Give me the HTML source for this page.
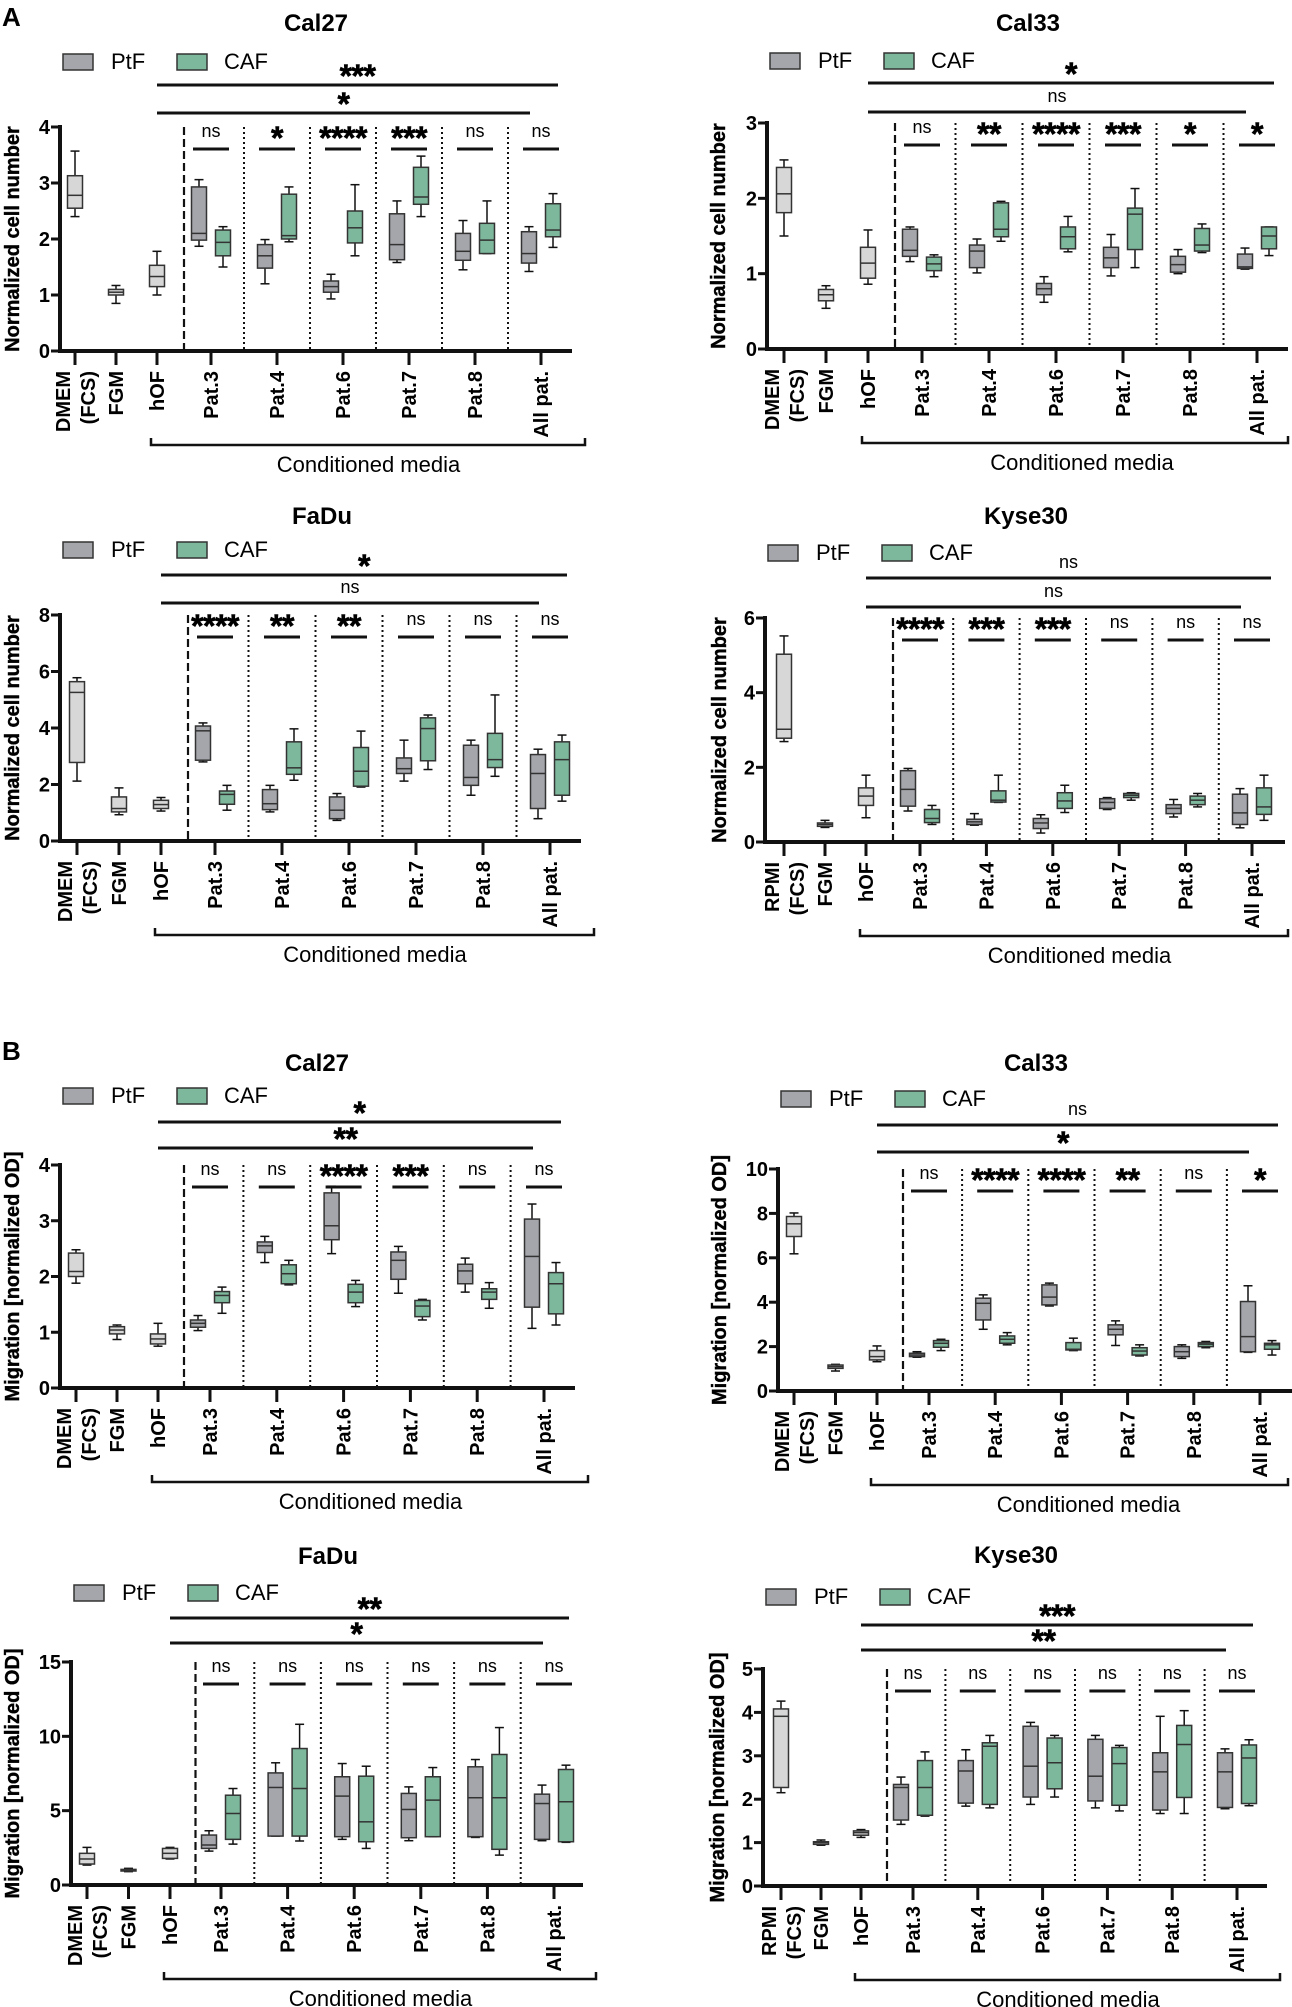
<!DOCTYPE html>
<html><head><meta charset="utf-8">
<style>
html,body{margin:0;padding:0;background:#fff;}
svg{display:block;font-family:"Liberation Sans",Arial,sans-serif;}
</style></head>
<body>
<svg id="fig" width="1292" height="2007" viewBox="0 0 1292 2007" xmlns="http://www.w3.org/2000/svg">
<text x="2" y="26" font-size="26" font-weight="bold">A</text>
<text x="2" y="1060" font-size="26" font-weight="bold">B</text>
</svg>
<script>
// ---- data: each box = [min, q1, median, q3, max]
const catsDMEM = ["DMEM|(FCS)","FGM","hOF","Pat.3","Pat.4","Pat.6","Pat.7","Pat.8","All pat."];
const catsRPMI = ["RPMI|(FCS)","FGM","hOF","Pat.3","Pat.4","Pat.6","Pat.7","Pat.8","All pat."];

const aCal27Singles = [[2.4,2.55,2.78,3.13,3.57],[0.85,1.0,1.05,1.1,1.17],[1.0,1.15,1.33,1.53,1.78]];
const aCal27PtF = [[1.87,1.98,2.1,2.93,3.06],[1.2,1.48,1.7,1.9,1.99],[0.93,1.05,1.15,1.25,1.37],[1.58,1.63,1.9,2.45,2.68],[1.45,1.62,1.78,2.1,2.33],[1.42,1.57,1.74,2.13,2.22]];
const aCal27CAF = [[1.5,1.7,1.94,2.16,2.22],[1.95,2.0,2.06,2.8,2.93],[1.7,1.93,2.2,2.5,2.97],[2.4,2.62,2.75,3.28,3.48],[1.74,1.74,1.98,2.28,2.68],[1.85,2.04,2.16,2.63,2.81]];
const aCal27Sig = ["ns","*","****","***","ns","ns"];
const aCal27Brackets = ["***","*"];

const aCal33Singles = [[1.5,1.81,2.06,2.41,2.51],[0.54,0.64,0.72,0.79,0.84],[0.86,0.94,1.14,1.35,1.58]];
const aCal33PtF = [[1.16,1.23,1.31,1.59,1.62],[1.01,1.08,1.3,1.38,1.46],[0.62,0.72,0.8,0.87,0.96],[0.97,1.08,1.21,1.35,1.52],[1.0,1.02,1.12,1.23,1.32],[1.06,1.07,1.09,1.26,1.34]];
const aCal33CAF = [[0.96,1.04,1.13,1.22,1.25],[1.43,1.49,1.59,1.94,1.96],[1.29,1.33,1.49,1.62,1.76],[1.08,1.32,1.79,1.87,2.13],[1.28,1.3,1.38,1.6,1.66],[1.24,1.33,1.5,1.62,1.62]];
const aCal33Sig = ["ns","**","****","***","*","*"];
const aCal33Brackets = ["*","ns"];

const aFaduSingles = [[2.12,2.78,5.26,5.64,5.78],[0.93,1.03,1.15,1.56,1.88],[1.06,1.15,1.29,1.44,1.54]];
const aFaduPtF = [[2.8,2.86,3.9,4.07,4.18],[1.03,1.11,1.32,1.82,1.97],[0.73,0.79,1.09,1.56,1.68],[2.12,2.39,2.56,2.94,3.57],[1.62,1.97,2.25,3.39,3.57],[0.79,1.15,2.39,3.06,3.25]];
const aFaduCAF = [[1.09,1.3,1.65,1.77,1.97],[2.15,2.36,2.59,3.51,3.97],[1.91,1.94,2.47,3.31,3.89],[2.53,2.84,3.98,4.36,4.46],[2.29,2.6,2.88,3.81,5.17],[1.41,1.62,2.88,3.51,3.75]];
const aFaduSig = ["****","**","**","ns","ns","ns"];
const aFaduBrackets = ["*","ns"];

const aKyseSingles = [[2.69,2.78,3.02,5.03,5.52],[0.39,0.42,0.47,0.51,0.58],[0.65,0.98,1.23,1.45,1.79]];
const aKysePtF = [[0.83,0.96,1.41,1.91,1.97],[0.45,0.47,0.54,0.61,0.76],[0.24,0.36,0.51,0.63,0.73],[0.87,0.9,1.06,1.16,1.19],[0.67,0.76,0.9,1.0,1.14],[0.38,0.47,0.78,1.28,1.43]];
const aKyseCAF = [[0.47,0.52,0.63,0.87,0.98],[1.06,1.07,1.12,1.37,1.79],[0.79,0.9,1.1,1.32,1.52],[1.12,1.19,1.25,1.3,1.32],[0.94,1.0,1.12,1.23,1.3],[0.58,0.74,0.94,1.45,1.79]];
const aKyseSig = ["****","***","***","ns","ns","ns"];
const aKyseBrackets = ["ns","ns"];

const bCal27Singles = [[1.88,2.0,2.09,2.42,2.48],[0.87,0.97,1.04,1.1,1.13],[0.75,0.79,0.88,0.97,1.16]];
const bCal27PtF = [[1.03,1.09,1.16,1.22,1.3],[2.25,2.43,2.55,2.62,2.72],[2.41,2.66,2.91,3.5,3.62],[1.7,1.95,2.29,2.44,2.54],[1.72,1.87,2.1,2.22,2.33],[1.07,1.45,2.36,3.03,3.3]];
const bCal27CAF = [[1.34,1.53,1.66,1.73,1.81],[1.85,1.87,2.05,2.21,2.29],[1.46,1.53,1.72,1.86,1.93],[1.22,1.28,1.47,1.57,1.59],[1.43,1.59,1.72,1.78,1.89],[1.13,1.33,1.87,2.07,2.25]];
const bCal27Sig = ["ns","ns","****","***","ns","ns"];
const bCal27Brackets = ["*","**"];

const bCal33Singles = [[6.18,6.96,7.53,7.86,8.02],[0.9,1.02,1.1,1.17,1.2],[1.32,1.4,1.55,1.82,2.03]];
const bCal33PtF = [[1.52,1.55,1.62,1.7,1.77],[2.78,3.2,3.95,4.18,4.33],[3.83,3.88,4.23,4.78,4.86],[2.05,2.53,2.78,2.98,3.16],[1.47,1.55,1.77,2.0,2.08],[1.74,1.77,2.45,4.03,4.74]];
const bCal33CAF = [[1.82,1.97,2.15,2.27,2.33],[2.08,2.15,2.33,2.48,2.63],[1.82,1.85,1.88,2.18,2.38],[1.58,1.62,1.8,1.95,2.08],[1.95,2.0,2.11,2.18,2.23],[1.62,1.88,2.08,2.15,2.27]];
const bCal33Sig = ["ns","****","****","**","ns","*"];
const bCal33Brackets = ["ns","*"];

const bFaduSingles = [[1.34,1.41,1.75,2.13,2.53],[0.9,0.94,1.0,1.05,1.12],[1.75,1.79,2.13,2.46,2.53]];
const bFaduPtF = [[2.28,2.46,2.69,3.36,3.65],[3.29,3.29,6.56,7.54,8.22],[3.07,3.25,5.98,7.28,8.17],[2.98,3.18,5.08,6.16,6.6],[3.2,3.25,5.87,7.95,8.44],[2.98,3.07,5.48,6.11,6.72]];
const bFaduCAF = [[2.75,3.07,4.81,6.04,6.49],[2.96,3.29,6.49,9.18,10.81],[2.46,2.91,4.25,7.32,7.99],[3.25,3.25,5.71,7.28,7.9],[2.01,2.4,5.87,8.78,10.59],[2.87,2.91,5.6,7.77,8.06]];
const bFaduSig = ["ns","ns","ns","ns","ns","ns"];
const bFaduBrackets = ["**","*"];

const bKyseSingles = [[2.15,2.27,3.91,4.08,4.26],[0.94,0.96,1.0,1.02,1.06],[1.12,1.17,1.23,1.27,1.3]];
const bKysePtF = [[1.42,1.52,2.27,2.34,2.51],[1.84,1.91,2.65,2.89,3.14],[1.88,2.05,2.76,3.68,3.77],[1.8,1.96,2.53,3.38,3.47],[1.67,1.75,2.63,3.07,3.91],[1.78,1.81,2.63,3.07,3.16]];
const bKyseCAF = [[1.61,1.63,2.27,2.89,3.09],[1.8,1.88,3.22,3.3,3.47],[2.05,2.24,2.84,3.41,3.47],[1.73,1.86,2.82,3.19,3.24],[1.67,2.04,3.26,3.7,4.04],[1.85,1.9,2.95,3.25,3.37]];
const bKyseSig = ["ns","ns","ns","ns","ns","ns"];
const bKyseBrackets = ["***","**"];

const yTicksACal27 = [0,1,2,3,4];
const yTicksACal33 = [0,1,2,3];
const yTicksAFadu = [0,2,4,6,8];
const yTicksAKyse = [0,2,4,6];
const yTicksBCal27 = [0,1,2,3,4];
const yTicksBCal33 = [0,2,4,6,8,10];
const yTicksBFadu = [0,5,10,15];
const yTicksBKyse = [0,1,2,3,4,5];

// ---- layout (pixels only)
const panels = [
 {id:"a-cal27",title:"Cal27",ytitle:"Normalized cell number",cats:catsDMEM,s:aCal27Singles,p:aCal27PtF,c:aCal27CAF,sig:aCal27Sig,br:aCal27Brackets,ticks:yTicksACal27,
  ax:60,yTop:127,yBot:351,x0:75,gA:41,p0:211,gP:66,axEnd:572,tx:316,ty:22,legY:54,l1:85,l2:113,ytx:12},
 {id:"a-cal33",title:"Cal33",ytitle:"Normalized cell number",cats:catsDMEM,s:aCal33Singles,p:aCal33PtF,c:aCal33CAF,sig:aCal33Sig,br:aCal33Brackets,ticks:yTicksACal33,
  ax:767,yTop:123,yBot:349,x0:784,gA:42,p0:922,gP:67,axEnd:1288,tx:1028,ty:22,legY:53,l1:83,l2:112,ytx:718},
 {id:"a-fadu",title:"FaDu",ytitle:"Normalized cell number",cats:catsDMEM,s:aFaduSingles,p:aFaduPtF,c:aFaduCAF,sig:aFaduSig,br:aFaduBrackets,ticks:yTicksAFadu,
  ax:60,yTop:615,yBot:841,x0:77,gA:42,p0:215,gP:67,axEnd:581,tx:322,ty:515,legY:542,l1:575,l2:603,ytx:12},
 {id:"a-kyse30",title:"Kyse30",ytitle:"Normalized cell number",cats:catsRPMI,s:aKyseSingles,p:aKysePtF,c:aKyseCAF,sig:aKyseSig,br:aKyseBrackets,ticks:yTicksAKyse,
  ax:765,yTop:618,yBot:842,x0:784,gA:41,p0:920,gP:66.4,axEnd:1285,tx:1026,ty:515,legY:545,l1:578,l2:607,ytx:719},
 {id:"b-cal27",title:"Cal27",ytitle:"Migration [normalized OD]",cats:catsDMEM,s:bCal27Singles,p:bCal27PtF,c:bCal27CAF,sig:bCal27Sig,br:bCal27Brackets,ticks:yTicksBCal27,
  ax:60,yTop:1165,yBot:1388,x0:76,gA:41,p0:210,gP:66.8,axEnd:575,tx:317,ty:1062,legY:1088,l1:1122,l2:1148,ytx:12},
 {id:"b-cal33",title:"Cal33",ytitle:"Migration [normalized OD]",cats:catsDMEM,s:bCal33Singles,p:bCal33PtF,c:bCal33CAF,sig:bCal33Sig,br:bCal33Brackets,ticks:yTicksBCal33,
  ax:778,yTop:1169,yBot:1391,x0:794,gA:41.5,p0:929,gP:66.2,axEnd:1292,tx:1036,ty:1062,legY:1091,l1:1125,l2:1152,ytx:719},
 {id:"b-fadu",title:"FaDu",ytitle:"Migration [normalized OD]",cats:catsDMEM,s:bFaduSingles,p:bFaduPtF,c:bFaduCAF,sig:bFaduSig,br:bFaduBrackets,ticks:yTicksBFadu,
  ax:71,yTop:1662,yBot:1885,x0:87,gA:41.5,p0:221,gP:66.6,axEnd:583,tx:328,ty:1555,legY:1585,l1:1618,l2:1643,ytx:12},
 {id:"b-kyse30",title:"Kyse30",ytitle:"Migration [normalized OD]",cats:catsRPMI,s:bKyseSingles,p:bKysePtF,c:bKyseCAF,sig:bKyseSig,br:bKyseBrackets,ticks:yTicksBKyse,
  ax:763,yTop:1669,yBot:1886,x0:781,gA:40,p0:913,gP:64.8,axEnd:1267,tx:1016,ty:1554,legY:1589,l1:1625,l2:1650,ytx:717}
];

const NS="http://www.w3.org/2000/svg";
const svg=document.getElementById("fig");
function mk(tag,attrs,parent){const e=document.createElementNS(NS,tag);for(const k in attrs)e.setAttribute(k,attrs[k]);(parent||svg).appendChild(e);return e;}
function line(g,x1,y1,x2,y2,w,extra){const l=mk("line",Object.assign({x1:x1,y1:y1,x2:x2,y2:y2,stroke:"#111","stroke-width":w},extra||{}),g);return l;}
function txt(g,x,y,s,size,weight,anchor){const t=mk("text",{x:x,y:y,"font-size":size,"font-weight":weight||"normal","text-anchor":anchor||"middle",fill:"#000"},g);t.textContent=s;return t;}

const COL_S="#d6d7d6",COL_P="#a5a6ab",COL_C="#7db89c";

function drawBox(g,cx,vals,yS,fill,name){
  const bg=mk("g",{},g);
  
  
  const w=15,cap=4.5;
  const [mn,q1,md,q3,mx]=vals;
  line(bg,cx,yS(mx),cx,yS(q3),1.5);
  line(bg,cx,yS(q1),cx,yS(mn),1.5);
  line(bg,cx-cap,yS(mx),cx+cap,yS(mx),1.5);
  line(bg,cx-cap,yS(mn),cx+cap,yS(mn),1.5);
  mk("rect",{x:cx-w/2,y:yS(q3),width:w,height:Math.max(1,yS(q1)-yS(q3)),fill:fill,stroke:"#333","stroke-width":1.5},bg);
  line(bg,cx-w/2,yS(md),cx+w/2,yS(md),1.5,{stroke:"#333"});
}

function sigText(g,x,cy,s,name){
  let t;
  if(s==="ns"){t=txt(g,x,cy+6,s,18,"normal");}
  else{t=txt(g,x,cy+18,s,32,"bold");t.setAttribute("letter-spacing","-0.5");t.setAttribute("stroke","#000");t.setAttribute("stroke-width","0.6");}
  
  
}

panels.forEach(P=>{
  const g=mk("g",{});
  
  
  const ymax=P.ticks[P.ticks.length-1];
  const yS=v=>P.yBot-(v/ymax)*(P.yBot-P.yTop);
  const xS=i=>i<3?P.x0+i*P.gA:P.p0+(i-3)*P.gP;
  const tt=txt(g,P.tx,P.ty+9,P.title,24,"bold");
  
  
  const lg=mk("g",{},g);
  
  
  const lx=P.ax+3;
  mk("rect",{x:lx,y:P.legY,width:30,height:16,fill:COL_P,stroke:"#333","stroke-width":1.5},lg);
  const t1=txt(lg,lx+48,P.legY+15,"PtF",22,"normal","start");
  
  
  mk("rect",{x:lx+114,y:P.legY,width:30,height:16,fill:COL_C,stroke:"#333","stroke-width":1.5},lg);
  const t2=txt(lg,lx+161,P.legY+15,"CAF",22,"normal","start");
  
  
  const ymid=(P.yTop+P.yBot)/2;
  const yt=txt(g,0,0,P.ytitle,20,"bold");
  yt.setAttribute("transform","translate("+(P.ytx+7)+","+ymid+") rotate(-90)");
  yt.setAttribute("stroke","#000");
  yt.setAttribute("stroke-width","0.4");
  
  
  const dx=(xS(2)+xS(3))/2;
  line(g,dx,P.yTop,dx,P.yBot,2.2,{"stroke-dasharray":"8,4"});
  for(let i=3;i<8;i++){const sx=(xS(i)+xS(i+1))/2;line(g,sx,P.yTop,sx,P.yBot,2,{"stroke-dasharray":"2,3"});}
  const yax=line(g,P.ax,P.yTop-2,P.ax,P.yBot+2,4);
  
  
  const xax=line(g,P.ax-2,P.yBot,P.axEnd,P.yBot,4);
  
  
  P.ticks.forEach(v=>{
    line(g,P.ax-9,yS(v),P.ax,yS(v),3);
    const tl=txt(g,P.ax-10,yS(v)+7,String(v),20,"bold","end");
    
    
  });
  P.cats.forEach((c,i)=>{
    const x=xS(i);
    line(g,x,P.yBot,x,P.yBot+14,3);
    const parts=c.split("|");
    parts.forEach((s,k)=>{
      const off=parts.length>1?(k===0?-12:13):0;
      const t=txt(g,0,0,s,20,"bold","end");
      t.setAttribute("transform","translate("+(x+off+7)+","+(P.yBot+20)+") rotate(-90)");
      
      
    });
  });
  P.s.forEach((b,i)=>drawBox(g,xS(i),b,yS,COL_S,'box-'+P.cats[i].split("|")[0].toLowerCase()));
  P.p.forEach((b,i)=>drawBox(g,xS(i+3)-12,b,yS,COL_P,'box-ptf-'+(i+1)));
  P.c.forEach((b,i)=>drawBox(g,xS(i+3)+12,b,yS,COL_C,'box-caf-'+(i+1)));
  P.sig.forEach((s,i)=>{
    const x=xS(i+3);
    sigText(g,x,P.yTop+4,s,'pair-significance');
    line(g,x-18,P.yTop+22,x+18,P.yTop+22,3);
  });
  const bx1=xS(2), bx2a=P.axEnd-14, bx2b=xS(8)-11;
  const b1=line(g,bx1,P.l1,bx2a,P.l1,3);
  
  
  sigText(g,(bx1+bx2a)/2,P.l1-16,P.br[0],'bracket-significance');
  const b2=line(g,bx1,P.l2,bx2b,P.l2,3);
  
  
  sigText(g,(bx1+bx2b)/2,P.l2-16,P.br[1],'bracket-significance');
  const cEnd=Math.min(P.axEnd+13,1288);
  const cb=mk("path",{d:"M"+(xS(2)-6)+","+(P.yBot+87)+"V"+(P.yBot+94)+"H"+cEnd+"V"+(P.yBot+87),fill:"none",stroke:"#111","stroke-width":2.5},g);
  
  
  const cm=txt(g,(xS(2)+P.axEnd)/2+4,P.yBot+121,"Conditioned media",22,"normal");
  
  
});
</script>
</body></html>
